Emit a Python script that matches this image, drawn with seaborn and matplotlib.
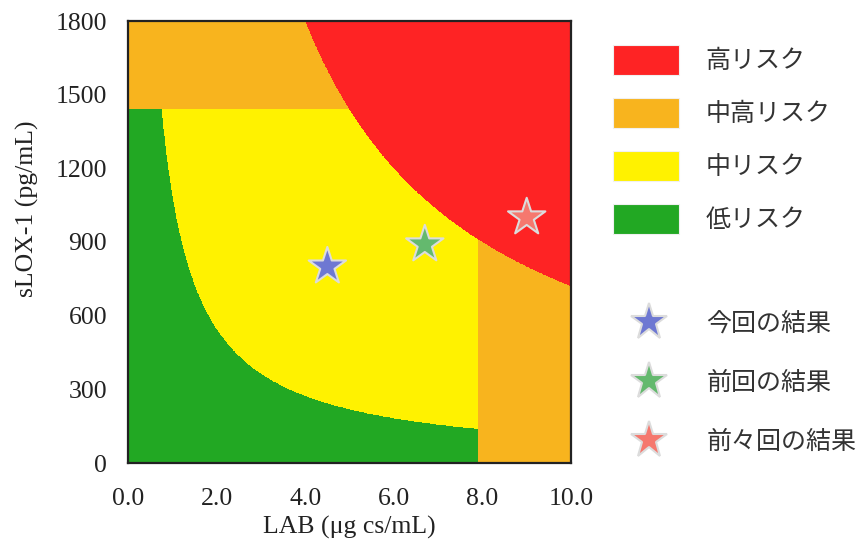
import numpy as np
import pandas as pd
import matplotlib
matplotlib.use("Agg")
import matplotlib.pyplot as plt
from matplotlib.colors import ListedColormap
from matplotlib.patches import Patch
from matplotlib.lines import Line2D
import seaborn as sns

# ---- data ----
risk_labels = ["高リスク", "中高リスク", "中リスク", "低リスク"]
risk_colors = ["#fe2324", "#f8b41e", "#fff200", "#22a823"]
# region thresholds
high_product = 7200.0     # LAB * sLOX-1 above -> high risk
low_product = 1090.0      # LAB * sLOX-1 below -> low risk
slox_upper = 1440.0       # sLOX-1 above -> at least mid-high
lab_upper = 7.9           # LAB above -> at least mid-high

result_labels = ["今回の結果", "前回の結果", "前々回の結果"]
result_lab = [4.5, 6.7, 9.0]
result_slox = [800, 890, 1000]
result_colors = ["#6e78d2", "#64b96e", "#f5786e"]

x_ticks = [0, 2, 4, 6, 8, 10]
x_tick_labels = ["0.0", "2.0", "4.0", "6.0", "8.0", "10.0"]
y_ticks = [0, 300, 600, 900, 1200, 1500, 1800]

# ---- style ----
sns.set_theme(style="white")
plt.rcParams["font.family"] = ["Liberation Serif", "DejaVu Serif"]
jp_font = ["Noto Sans CJK JP", "DejaVu Sans"]

fig = plt.figure(figsize=(8.61, 5.42), dpi=100)
ax = fig.add_axes([128 / 861, 1 - 463 / 542, (571 - 128) / 861, (463 - 21) / 542])

# risk grid
xs = np.linspace(0, 10, 1600)
ys = np.linspace(0, 1800, 1600)
X, Y = np.meshgrid(xs, ys)
P = X * Y
cls = np.full(X.shape, 2)                      # mid
cls[P < low_product] = 3                        # low
cls[(Y >= slox_upper) | (X >= lab_upper)] = 1   # mid-high
cls[P >= high_product] = 0                      # high
ax.imshow(cls, origin="lower", extent=[0, 10, 0, 1800], aspect="auto",
          cmap=ListedColormap(risk_colors), vmin=-0.5, vmax=3.5,
          interpolation="nearest", zorder=0)

df = pd.DataFrame({"LAB": result_lab, "sLOX": result_slox, "label": result_labels})
sns.scatterplot(data=df, x="LAB", y="sLOX", hue="label",
                palette=dict(zip(result_labels, result_colors)),
                marker="*", s=800, edgecolor="#dcdcdc", linewidth=1.5,
                legend=False, ax=ax, zorder=3)

ax.set_xlim(0, 10)
ax.set_ylim(0, 1800)
ax.set_xticks(x_ticks)
ax.set_xticklabels(x_tick_labels)
ax.set_yticks(y_ticks)
ax.tick_params(axis="both", length=0, labelsize=18.5, colors="#222222")
ax.tick_params(axis="y", pad=15)
ax.tick_params(axis="x", pad=18)
for s in ax.spines.values():
    s.set_color("#222222")
    s.set_linewidth(1.6)
ax.set_xlabel("LAB (μg cs/mL)", fontsize=18.5, color="#222222", labelpad=4)
ax.set_ylabel("sLOX-1 (pg/mL)", fontsize=18.5, color="#222222")
ax.yaxis.set_label_coords(-0.20, 0.575)

# legends
risk_handles = [Patch(facecolor=c, edgecolor="#f0f0f0", linewidth=0.8) for c in risk_colors]
leg1 = fig.legend(risk_handles, risk_labels, loc="upper left",
                  bbox_to_anchor=(613 / 861, 1 - 45 / 542), frameon=False,
                  prop={"family": jp_font, "size": 18}, handlelength=2.65,
                  handleheight=1.47, handletextpad=1.05, labelspacing=0.92,
                  borderpad=0, borderaxespad=0, labelcolor="#333333")
star_handles = [Line2D([], [], marker="*", linestyle="none", markersize=28,
                       markerfacecolor=c, markeredgecolor="#dcdcdc", markeredgewidth=1.5)
                for c in result_colors]
leg2 = fig.legend(star_handles, result_labels, loc="upper left",
                  bbox_to_anchor=(629 / 861, 1 - 311 / 542), frameon=False,
                  prop={"family": jp_font, "size": 18}, handlelength=1.6,
                  handletextpad=1.5, labelspacing=1.32,
                  borderpad=0, borderaxespad=0, labelcolor="#333333")

fig.savefig("out.png", dpi=100)
